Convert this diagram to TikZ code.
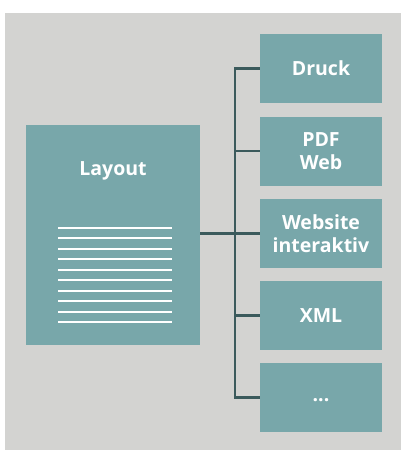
\documentclass[tikz,border=0pt]{standalone}
\usepackage{fontspec}
\setmainfont{Open Sans}
\usetikzlibrary{positioning}
\definecolor{bggray}{HTML}{D3D3D1}
\definecolor{boxteal}{HTML}{78A7AA}
\definecolor{busdark}{HTML}{3B5A5C}
\begin{document}
\begin{tikzpicture}[x=1pt, y=-1pt,
    outbox/.style={rectangle, fill=boxteal, inner sep=0pt, minimum width=122pt, minimum height=69pt,
        text=white, font=\fontsize{19.5}{23.5}\selectfont\bfseries, align=center},
    pagebox/.style={rectangle, fill=boxteal, inner sep=0pt, minimum width=174pt, minimum height=220pt},
    busline/.style={draw=busdark, line width=2.2pt},
    textline/.style={draw=white, line width=1.6pt}]

    \useasboundingbox (0,0) rectangle (402,450);
    \fill[bggray] (5,13) rectangle (401,450);

    % output formats
    \node[outbox](druck) at (321,68.5) {Druck};
    \node[outbox](pdf) at (321,151) {PDF\\Web};
    \node[outbox](web) at (321,233.5) {Website\\interaktiv};
    \node[outbox](xml) at (321,315.5) {XML};
    \node[outbox](more) at (321,397.5) {\raisebox{-8pt}{...}};

    % layout page
    \node[pagebox](layout) at (113,235) {};
    \node[text=white, font=\fontsize{19.5}{23.5}\selectfont\bfseries, below=33pt of layout.north](title) {Layout};
    \foreach \i in {0,...,9}
        \draw[textline] (58,{227.7+10.5*\i}) -- (172,{227.7+10.5*\i});

    % connectors
    \draw[busline] (druck.west) -- ++(-25,0) |- (more.west);
    \foreach \n in {pdf,web,xml}
        \draw[busline] (\n.west) -- ++(-25,0);
    \draw[busline] (layout.east |- web.west) -- ++(35,0);

\end{tikzpicture}
\end{document}
